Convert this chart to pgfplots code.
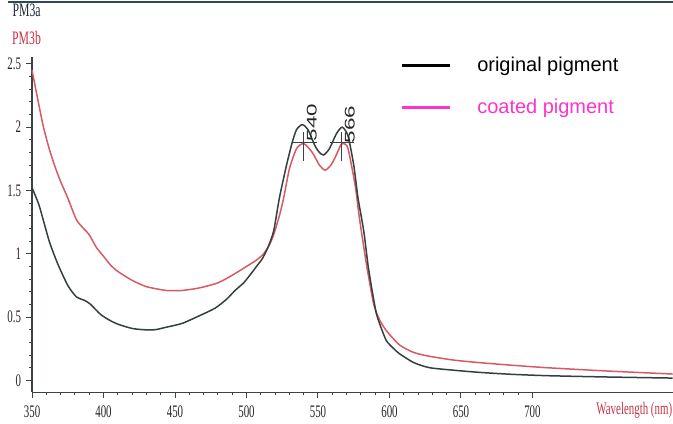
\documentclass[border=0pt]{standalone}
\usepackage{pgfplots}
\pgfplotsset{compat=1.18}
\usepackage{fontspec}
\setmainfont{Liberation Serif}
\newfontfamily\condserif[FakeStretch=0.62]{Liberation Serif}
\newfontfamily\legfont{Liberation Sans}
\definecolor{origc}{HTML}{34403F}
\definecolor{coatc}{HTML}{D65A66}
\definecolor{legpink}{HTML}{FF33CC}
\definecolor{axc}{HTML}{3A4448}
\definecolor{labred}{HTML}{C83246}
\definecolor{pmA}{HTML}{1E2A3A}
\definecolor{scanline}{HTML}{2E4A52}
\begin{document}
\begin{tikzpicture}
\begin{axis}[
  scale only axis, width=320.5pt, height=167.5pt,
  xmin=350, xmax=798, ymin=-0.094, ymax=2.55,
  axis x line=bottom, axis y line=left,
  axis line style={-, axc, line width=0.6pt},
  xtick={350,400,...,700}, ytick={0,0.5,...,2.5},
  minor x tick num=4, minor y tick num=4,
  tick align=outside,
  major tick length=3pt, minor tick length=1.6pt,
  tick style={axc, line width=0.5pt},
  /pgf/number format/assume math mode=true,
  ticklabel style={font=\fontsize{8.8}{9}\condserif, text=black!85},
  yticklabel style={xshift=1pt},
  clip=false,
  legend style={draw=none, fill=none, at={(0.575,1.016)}, anchor=north west,
    inner sep=0pt, row sep=8.5pt, font=\fontsize{10}{11}\legfont},
  legend cell align=left,
  legend image code/.code={\draw[#1] (0pt,0pt) -- (23.8pt,0pt);},
]
\coordinate (bbll) at (axis cs:327.6,-0.337);
\coordinate (bbur) at (axis cs:798.3,3.004);
\coordinate (scl) at (axis cs:333,2.99);
\coordinate (scr) at (axis cs:798.3,2.99);

\addlegendimage{black, line width=1.5pt}
\addlegendentry{\hspace*{11pt}original pigment}
\addlegendimage{legpink, line width=1.5pt}
\addlegendentry{\hspace*{11pt}\textcolor{legpink}{coated pigment}}

\addplot[coatc, line width=0.75pt, smooth, tension=0.4, forget plot] coordinates {
(350,2.45) (354,2.22) (358,2.00) (362,1.83) (366,1.69) (370,1.57) (375,1.44) (381,1.27)
(386,1.20) (390,1.15) (395,1.05) (400,0.98) (405,0.91) (410,0.86) (420,0.79) (430,0.74)
(444,0.71) (455,0.71) (467,0.73) (480,0.77) (490,0.83) (500,0.90) (507,0.95) (512,1.00)
(516,1.07) (519,1.15) (523,1.30) (526,1.44) (530,1.67) (535,1.83) (540,1.87) (546,1.80)
(551,1.70) (555,1.66) (559,1.70) (562,1.76) (566,1.86) (568,1.87) (571,1.83) (576,1.54)
(579,1.28) (584,0.91) (589,0.60) (593,0.48) (598,0.39) (607,0.28) (617,0.22) (628,0.19)
(645,0.16) (663,0.14) (685,0.12) (710,0.10) (750,0.075) (798,0.05)
};
\addplot[origc, line width=0.75pt, smooth, tension=0.4, forget plot] coordinates {
(350,1.52) (355,1.38) (362,1.10) (368,0.92) (375,0.75) (381,0.66) (387,0.63) (391,0.60)
(398,0.52) (405,0.47) (411,0.44) (420,0.41) (428,0.40) (436,0.40) (444,0.42) (455,0.45)
(467,0.51) (478,0.57) (486,0.64) (492,0.71) (498,0.77) (503,0.84) (507,0.90) (511,0.96)
(515,1.05) (519,1.18) (523,1.44) (528,1.70) (532,1.88) (535,1.98) (539,2.02) (543,1.98)
(548,1.85) (551,1.80) (554,1.78) (558,1.83) (563,1.95) (567,2.00) (571,1.93) (575,1.70)
(578,1.44) (582,1.18) (585,0.91) (588,0.70) (591,0.52) (595,0.39) (598,0.31) (603,0.25)
(607,0.21) (617,0.14) (628,0.10) (645,0.08) (663,0.063) (685,0.048) (710,0.037) (750,0.027) (798,0.018)
};
% peak markers
\addplot[axc, line width=0.6pt, forget plot] coordinates {(540,1.73) (540,1.96)};
\addplot[axc, line width=0.6pt, forget plot] coordinates {(531.6,1.88) (549.5,1.88)};
\addplot[axc, line width=0.6pt, forget plot] coordinates {(566.5,1.73) (566.5,1.96)};
\addplot[axc, line width=0.6pt, forget plot] coordinates {(558.4,1.88) (575.2,1.88)};

\node[rotate=90, inner sep=0pt, text=black!85] at (axis cs:545.6,2.035)
  {\scalebox{1.6}[1]{\fontsize{7}{8}\legfont 540}};
\node[rotate=90, inner sep=0pt, text=black!85] at (axis cs:572.2,2.02)
  {\scalebox{1.6}[1]{\fontsize{7}{8}\legfont 566}};

\node[anchor=east, inner sep=0pt, text=labred, font=\fontsize{8.8}{9}\condserif]
  at (axis cs:798,-0.237) {Wavelength (nm)};
\node[inner sep=0pt, text=pmA, font=\fontsize{9.5}{10}\condserif] at (axis cs:346.2,2.925) {PM3a};
\node[inner sep=0pt, text=labred, font=\fontsize{9.5}{10}\condserif] at (axis cs:346.2,2.706) {PM3b};
\end{axis}
\draw[scanline, line width=0.8pt] (scl) -- (scr);
\pgfresetboundingbox
\path (bbll) rectangle (bbur);
\end{tikzpicture}
\end{document}
